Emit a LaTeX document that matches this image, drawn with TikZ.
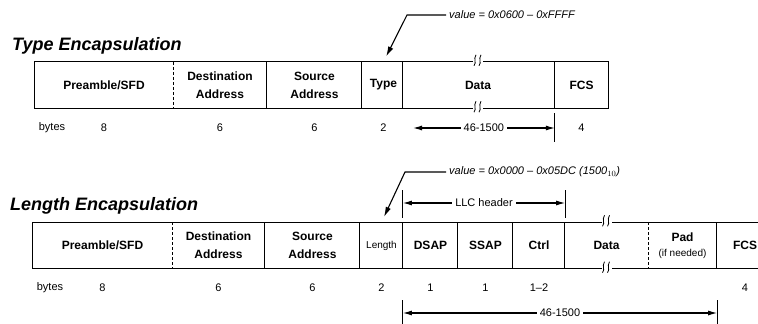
\documentclass[tikz,border=0pt]{standalone}
\usepackage{fontspec}
\setmainfont{Liberation Sans}
\usetikzlibrary{arrows.meta,positioning}

\begin{document}
\begin{tikzpicture}[
  x=1pt, y=-1pt,
  field/.style={minimum height=46pt, inner sep=0pt, align=center, font=\fontsize{12}{18}\selectfont\bfseries},
  bytes/.style={inner sep=1pt, font=\fontsize{11}{12}\selectfont},
  title/.style={anchor=west, inner sep=0pt, font=\fontsize{18}{20}\selectfont\bfseries\itshape},
  note/.style={anchor=west, inner sep=3pt, font=\fontsize{11}{12}\selectfont\itshape},
  frame/.style={line width=1.3pt},
  dim/.style={{Latex[length=9pt,width=5pt]}-{Latex[length=9pt,width=5pt]}, line width=1.1pt},
  lead/.style={-{Latex[length=10pt,width=5.5pt]}, line width=1.1pt, shorten >=6pt},
  brk/.pic={
    \fill[white] (-5,-3) rectangle (5,3);
    \draw[line width=0.8pt] (-4,4) .. controls (-1,0) and (-5,-2) .. (-2,-7);
    \draw[line width=0.8pt] (1,4) .. controls (4,0) and (0,-2) .. (3,-7);
  }
]
\clip (0,0) rectangle (758,324);

% type encapsulation
\node[title] (t-title) at (12,46) {Type Encapsulation};
\node[field, minimum width=138pt] (t-pre)  at (104,85)   {Preamble/SFD};
\node[field, minimum width=94pt]  (t-dst)  at (220,85)   {Destination\\Address};
\node[field, minimum width=95pt]  (t-src)  at (314.5,85) {Source\\Address};
\node[field, minimum width=43pt]  (t-type) at (383.5,85) {Type};
\node[field, minimum width=150pt] (t-data) at (478,85)   {Data};
\node[field, minimum width=53pt]  (t-fcs)  at (581.5,85) {FCS};
\draw[frame] (t-pre.north west) -- (t-fcs.north east) -- (t-fcs.south east) -- (t-pre.south west) -- cycle;
\foreach \f in {t-src,t-type,t-data,t-fcs}
  \draw[frame] (\f.north west) -- (\f.south west);
\draw[thin, densely dashed] (t-dst.north west) -- (t-dst.south west);
\pic at (t-data.north) {brk};
\pic at (t-data.south) {brk};

\node[bytes] (t-unit) at (52,128) {bytes};
\node[bytes] (t-npre)  at (t-pre |- 0,128)  {8};
\node[bytes] (t-ndst)  at (t-dst |- 0,128)  {6};
\node[bytes] (t-nsrc)  at (t-src |- 0,128)  {6};
\node[bytes] (t-ntype) at (t-type |- 0,128) {2};
\node[bytes] (t-nfcs)  at (t-fcs |- 0,128)  {4};
\coordinate (t-dimL) at (413,128);
\coordinate (t-dimR) at (t-fcs.south west |- 0,128);
\draw[dim] (t-dimL) -- node[bytes, fill=white, inner sep=3pt] (t-ndata) {46-1500} (t-dimR);
\draw[frame] (t-fcs.south west |- 0,113) -- (t-fcs.south west |- 0,142);

\node[note] (t-val) at (446,15) {value = 0x0600 -- 0xFFFF};
\coordinate (t-knee) at (407,15);
\draw[lead] (t-val.west) -- (t-knee) -- (t-type.north);

% length encapsulation
\node[title] (l-title) at (10,206) {Length Encapsulation};
\node[field, minimum width=139pt] (l-pre)  at (102.5,245.5) {Preamble/SFD};
\node[field, minimum width=93pt]  (l-dst)  at (218.5,245.5) {Destination\\Address};
\node[field, minimum width=95pt]  (l-src)  at (312.5,245.5) {Source\\Address};
\node[field, minimum width=43pt, font=\fontsize{10}{11}\selectfont] (l-len) at (381.5,245.5) {Length};
\node[field, minimum width=55pt]  (l-dsap) at (430.5,245.5) {DSAP};
\node[field, minimum width=55pt]  (l-ssap) at (485.5,245.5) {SSAP};
\node[field, minimum width=52pt]  (l-ctrl) at (539,245.5)   {Ctrl};
\node[field, minimum width=83pt]  (l-data) at (606.5,245.5) {Data};
\node[field, minimum width=69pt, font=\fontsize{12}{15}\selectfont\bfseries] (l-pad) at (682.5,245.5) {Pad\\{\mdseries\fontsize{10}{11}\selectfont (if needed)}};
\node[field, minimum width=56pt]  (l-fcs)  at (745,245.5)   {FCS};
\draw[frame] (l-pre.north west) -- (l-fcs.north east) -- (l-fcs.south east) -- (l-pre.south west) -- cycle;
\foreach \f in {l-src,l-len,l-dsap,l-ssap,l-ctrl,l-data,l-fcs}
  \draw[frame] (\f.north west) -- (\f.south west);
\draw[thin, densely dashed] (l-dst.north west) -- (l-dst.south west);
\draw[thin, densely dashed] (l-pad.north west) -- (l-pad.south west);
\pic at (l-data.north) {brk};
\pic at (l-data.south) {brk};

\node[bytes] (l-unit) at (50,288) {bytes};
\node[bytes] (l-npre)  at (l-pre |- 0,288)  {8};
\node[bytes] (l-ndst)  at (l-dst |- 0,288)  {6};
\node[bytes] (l-nsrc)  at (l-src |- 0,288)  {6};
\node[bytes] (l-nlen)  at (l-len |- 0,288)  {2};
\node[bytes] (l-ndsap) at (l-dsap |- 0,288) {1};
\node[bytes] (l-nssap) at (l-ssap |- 0,288) {1};
\node[bytes] (l-nctrl) at (l-ctrl |- 0,288) {1--2};
\node[bytes] (l-nfcs)  at (l-fcs |- 0,288)  {4};

% llc header span
\coordinate (l-llcL) at (l-dsap.north west |- 0,203);
\coordinate (l-llcR) at (l-ctrl.north east |- 0,203);
\draw[dim] (l-llcL) -- node[bytes, fill=white, inner sep=3pt] (l-llc) {LLC header} (l-llcR);
\draw[frame] (l-dsap.north west |- 0,190) -- (l-dsap.north west |- 0,218);
\draw[frame] (l-ctrl.north east |- 0,190) -- (l-ctrl.north east |- 0,218);

% data span
\coordinate (l-dimL) at (l-dsap.south west |- 0,313);
\coordinate (l-dimR) at (l-pad.south east |- 0,313);
\draw[dim] (l-dimL) -- node[bytes, fill=white, inner sep=3pt] (l-ndata) {46-1500} (l-dimR);
\draw[frame] (l-dsap.south west |- 0,300) -- (l-dsap.south west |- 0,324);
\draw[frame] (l-pad.south east |- 0,300) -- (l-pad.south east |- 0,324);

\node[note] (l-val) at (446,172) {value = 0x0000 -- 0x05DC (1500$_{10}$)};
\coordinate (l-knee) at (405,172);
\draw[lead] (l-val.west) -- (l-knee) -- (l-len.north);
\end{tikzpicture}
\end{document}
